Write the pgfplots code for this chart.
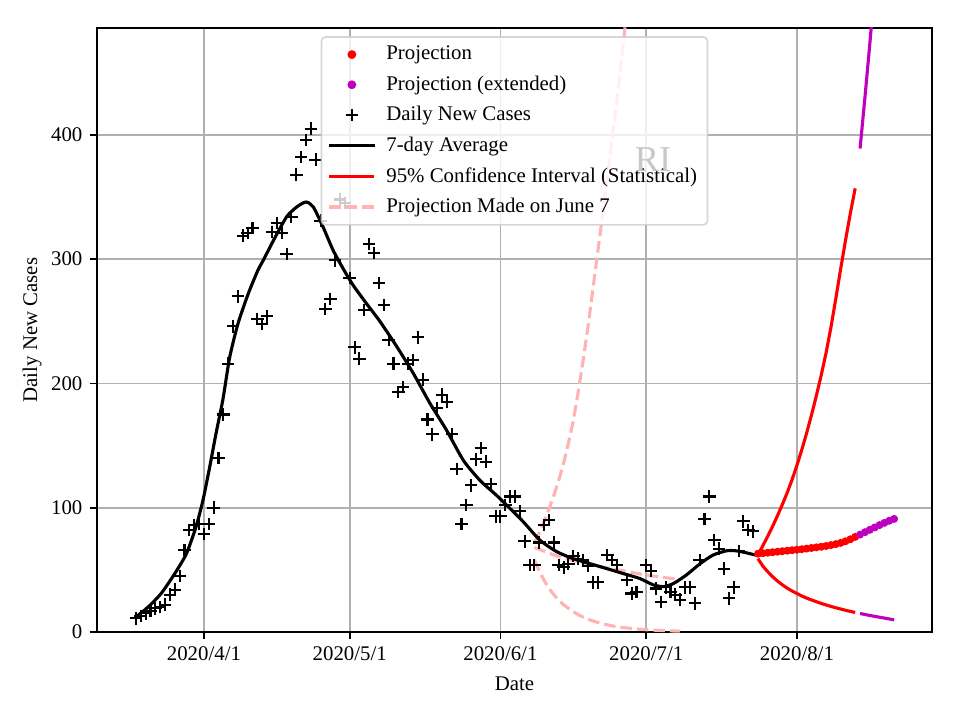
\documentclass[border=0pt]{standalone}
\usepackage{pgfplots}
\pgfplotsset{compat=1.18}
\usepackage{fontspec}
\setmainfont{Liberation Serif}

\definecolor{projpurple}{RGB}{191,0,191}
\definecolor{pinkproj}{RGB}{255,179,179}
\definecolor{gridgray}{RGB}{176,176,176}
\definecolor{legendedge}{RGB}{204,204,204}
\definecolor{watermark}{RGB}{200,200,200}

\newcommand{\tenpt}{\fontsize{10}{12}\selectfont}

\begin{document}
\begin{tikzpicture}
% figure is 6.4in x 4.8in, axis box placed as in the reference
\path[use as bounding box] (-46.56pt,-42.24pt) rectangle (414.24pt,303.36pt);
\begin{axis}[
    at={(0,0)}, anchor=south west,
    scale only axis,
    width=400.8pt, height=289.92pt,
    xmin=-22.0, xmax=149.8,
    ymin=0, ymax=486,
    xtick={0,30,61,91,122},
    xticklabels={2020/4/1,2020/5/1,2020/6/1,2020/7/1,2020/8/1},
    ytick={0,100,200,300,400},
    tick pos=left,
    tick align=outside,
    major tick length=3.5pt,
    every tick/.style={black, line width=0.8pt},
    axis line style={line width=0.8pt},
    grid=major,
    major grid style={gridgray, line width=0.8pt},
    /pgf/number format/assume math mode=true,
    ticklabel style={font=\tenpt},
    label style={font=\tenpt},
    xlabel={Date},
    ylabel={Daily New Cases},
    xlabel style={at={(axis description cs:0.5,-0.086)}, anchor=center},
    ylabel style={at={(axis description cs:-0.0778,0.5)}, anchor=center},
    legend image code/.code={\draw[mark repeat=2,mark phase=2,#1] plot coordinates {(0cm,0cm) (0.38cm,0cm) (0.76cm,0cm)};},
    legend image post style={fill opacity=1, draw opacity=1},
    legend cell align=left,
    legend style={at={(0.5,1)}, anchor=north, yshift=-3.9pt,
        draw=legendedge, line width=0.8pt, fill=white, fill opacity=0.8,
        draw opacity=0.8, text opacity=1, rounded corners=2pt,
        font=\tenpt, inner xsep=3pt, inner ysep=2.4pt, row sep=2.2pt, column sep=3pt},
]

% projection made on June 7 (drawn first, below everything else)
\addplot[pinkproj, line width=1.5pt, dash pattern=on 5.55pt off 2.4pt, forget plot] coordinates {
(68,72) (69,80) (70,89) (71,99) (72,110) (73,122) (74,136) (75,152) (76,170) (77,193)
(78,218) (79,245) (80,275) (81,305) (82,335) (83,366) (84,397) (85,428) (86,463) (87,500)
};
\addplot[pinkproj, line width=1.5pt, dash pattern=on 5.55pt off 2.4pt, forget plot] coordinates {
(68,68) (69,66.5) (70,65) (72,62) (74,59.5) (76,57.5) (78,55.5) (80,53.8) (82,52.2)
(84,50.8) (86,49.5) (88,48) (90,46.5) (92,45.3) (94,44.2) (96,43.2) (98,42.3)
};
\addplot[pinkproj, line width=1.5pt, dash pattern=on 5.55pt off 2.4pt, forget plot] coordinates {
(68,58) (69,49) (70,41.5) (71,35) (72,30) (73,25.5) (74,22) (75,19) (76,16.3) (77,14)
(78,12) (79,10.3) (80,8.9) (82,6.6) (84,4.9) (86,3.7) (88,2.8) (90,2.1) (92,1.6)
(94,1.2) (96,0.9) (98,0.7)
};

% projection
\addplot[only marks, mark=*, mark size=1.7pt, red] coordinates {
(114,63.0) (115,63.4) (116,63.8) (117,64.2) (118,64.6) (119,65.0) (120,65.4) (121,65.8)
(122,66.2) (123,66.6) (124,67.1) (125,67.6) (126,68.1) (127,68.6) (128,69.2) (129,69.9)
(130,70.7) (131,71.7) (132,73.0) (133,74.6) (134,76.5)
};
\addlegendentry{Projection}
\addplot[only marks, mark=*, mark size=1.7pt, projpurple] coordinates {
(135,78.4) (136,80.3) (137,82.2) (138,84.1) (139,86.0) (140,87.8) (141,89.5) (142,91.0)
};
\addlegendentry{Projection (extended)}

% daily new cases
\addplot[only marks, mark=+, mark size=3pt, mark options={line width=1pt}, black] coordinates {
(-14,11) (-13,13) (-12,15) (-11,17) (-10,19) (-9,20) (-8,22) (-7,30) (-6,34) (-5,45)
(-4,66) (-3,82) (-2,86) (-1,87) (0,79) (1,87) (2,100) (3,140) (4,175) (5,216)
(6,246) (7,270) (8,319) (9,321) (10,325) (11,252) (12,248) (13,254) (14,322) (15,329)
(16,321) (17,304) (18,334) (19,368) (20,382) (21,396) (22,405) (23,380) (24,331) (25,260)
(26,268) (27,299) (28,348) (29,345) (30,285) (31,229) (32,220) (33,259) (34,312) (35,305)
(36,281) (37,263) (38,235) (39,216) (40,193) (41,197) (42,216) (43,219) (44,237) (45,203)
(46,171) (47,159) (48,180) (49,191) (50,185) (51,159) (52,131) (53,87) (54,102) (55,118)
(56,139) (57,148) (58,137) (59,119) (60,93) (61,93) (62,102) (63,109) (64,109) (65,97)
(66,73) (67,54) (68,54) (69,72) (70,86) (71,90) (72,72) (73,54) (74,52) (75,55)
(76,61) (77,59) (78,58) (79,53) (80,40) (81,40) (83,62) (84,58) (85,54) (87,42)
(88,31) (89,32) (91,54) (92,49) (93,35) (94,24) (95,36) (96,32) (97,30) (98,26)
(99,36) (100,36) (101,23) (102,58) (103,91) (104,109) (105,74) (106,67) (107,51) (108,27)
(109,36) (110,65) (111,89) (112,82) (113,81)
};
\addlegendentry{Daily New Cases}

% 7-day average
\addplot[black, line width=1.5pt, smooth, tension=0.4] coordinates {
(-14,12) (-11.5,20) (-8.8,31) (-6,47) (-3.6,63) (-1.6,85) (-0.2,106) (1.2,133) (2.5,160)
(3.9,187) (5.3,221) (7,248) (9.1,272) (11.1,291) (12.2,299) (14.3,315) (17,334) (19.1,342)
(21,346) (22.5,342) (24.5,326) (26.6,307) (28.7,292) (30.7,279) (33.5,264) (36.2,250)
(39.7,229.5) (43.1,208) (46.5,184) (49.9,162.5) (53.4,138) (56.8,122) (60.2,110) (62.3,102)
(65.7,88.7) (69.1,74) (72.6,64.6) (76,59) (79.4,55) (82.9,51) (86.3,47) (89.7,43)
(92.4,38) (94.5,36.5) (96.6,39) (99.3,46) (102.1,55) (104.8,62) (107.6,65.4) (109.3,65.4)
(111.3,64) (113.4,62)
};
\addlegendentry{7-day Average}

% 95% confidence interval
\addplot[red, line width=1.5pt] coordinates {
(114,62) (115,69.5) (116,77) (117,85) (118,93.5) (119,102.5) (120,112) (121,122.5) (122,134)
(123,146.5) (124,160) (125,174.5) (126,190) (127,206.5) (128,224.5) (129,245) (130,268)
(131,292) (132,315) (133,337) (134,357)
};
\addlegendentry{95\% Confidence Interval (Statistical)}
\addplot[red, line width=1.5pt, forget plot] coordinates {
(114,59) (115,53) (116,48.5) (117,44.5) (118,41) (119,38) (120,35.3) (121,33) (122,31)
(123,29) (124,27.3) (125,25.8) (126,24.4) (127,23) (128,21.8) (129,20.6) (130,19.5)
(131,18.5) (132,17.5) (133,16.6) (134,15.7)
};
\addplot[projpurple, line width=1.5pt, forget plot] coordinates {
(135,389) (136,430) (137,473) (138,518)
};
\addplot[projpurple, line width=1.5pt, forget plot] coordinates {
(135,14.9) (136,14.1) (137,13.3) (138,12.6) (139,11.9) (140,11.2) (141,10.5) (142,9.8)
};

\addlegendimage{pinkproj, line width=1.5pt, dash pattern=on 5.55pt off 2.4pt}
\addlegendentry{Projection Made on June 7}
\end{axis}
\node[text=watermark, font=\fontsize{17.5}{20}\selectfont] at (266.9pt,226.6pt) {RI};
\end{tikzpicture}
\end{document}
